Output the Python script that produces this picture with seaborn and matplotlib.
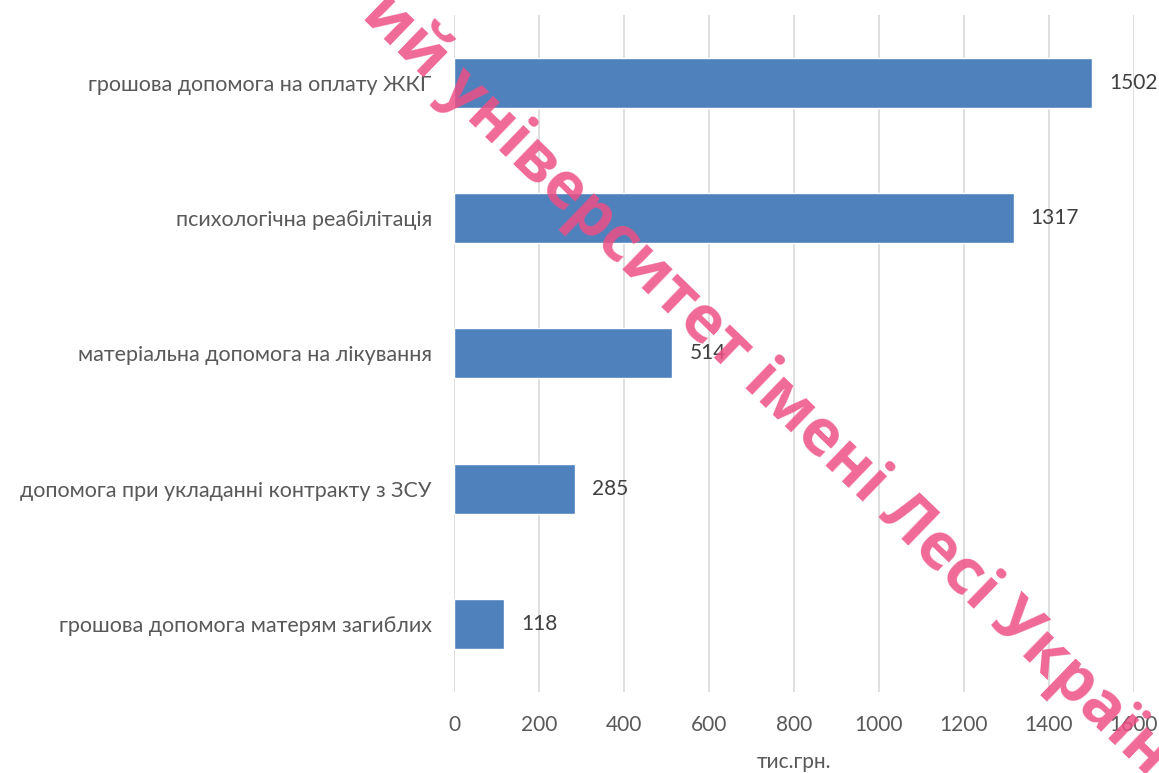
import matplotlib
matplotlib.use("Agg")
import matplotlib.pyplot as plt
import seaborn as sns
import pandas as pd

categories = [
    "грошова допомога на оплату ЖКГ",
    "психологічна реабілітація",
    "матеріальна допомога на лікування",
    "допомога при укладанні контракту з ЗСУ",
    "грошова допомога матерям загиблих",
]
values = [1502, 1317, 514, 285, 118]
x_ticks = [0, 200, 400, 600, 800, 1000, 1200, 1400, 1600]
x_label = "тис.грн."
watermark = "ий університет імені Лесі Українки"

df = pd.DataFrame({"category": categories, "value": values})

sns.set_theme(style="white")
plt.rcParams["font.family"] = ["Lato", "DejaVu Sans"]

fig = plt.figure(figsize=(11.59, 7.73), dpi=100)
ax = fig.add_axes([0.3917, 0.105, 0.5867, 0.8756])

sns.barplot(data=df, x="value", y="category", orient="h", color="#4F81BD",
            saturation=1, width=0.37, ax=ax, zorder=3)

ax.set_xlim(0, 1600)
ax.set_ylim(4.5, -0.5)
ax.set_xticks(x_ticks)
ax.xaxis.grid(True, color="#D9D9D9", linewidth=1.2, zorder=0)
ax.yaxis.grid(False)
for s in ax.spines.values():
    s.set_visible(False)
ax.tick_params(axis="y", length=0, pad=16, labelsize=15.5, labelcolor="#595959")
ax.tick_params(axis="x", length=0, pad=17, labelsize=15, labelcolor="#595959")
ax.set_ylabel("")
ax.set_xlabel(x_label, fontsize=15, color="#595959", labelpad=12)

for i, v in enumerate(values):
    ax.text(v + 40, i, str(v), va="center", ha="left", fontsize=15, color="#404040", zorder=4)

fig.text(372 / 1159, 1 - 4 / 773, watermark, rotation=-44, rotation_mode="anchor",
         ha="left", va="center", fontsize=46, fontweight="bold",
         family=["Open Sans", "DejaVu Sans"],
         color="#EE4F85", alpha=0.85, zorder=10)

fig.savefig("out.png", dpi=100)
